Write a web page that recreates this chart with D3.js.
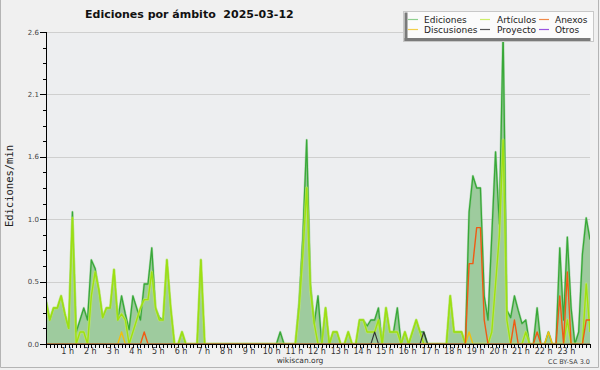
<!DOCTYPE html>
<html><head><meta charset="utf-8">
<script src="https://cdn.jsdelivr.net/npm/d3@7"></script>
<style>body{margin:0;background:#f0f0f0;} svg{display:block}</style>
</head><body><svg id="c" width="600" height="370"></svg>
<script>
// 10-minute slots, minutes since midnight
const slotMinutes = d3.range(145).map(i => i * 10);
const hourLabels = ["1 h","2 h","3 h","4 h","5 h","6 h","7 h","8 h","9 h","10 h","11 h","12 h","13 h","14 h","15 h","16 h","17 h","18 h","19 h","20 h","21 h","22 h","23 h"];
const yTickLabels = ["0.0","0.5","1.0","1.6","2.1","2.6"];
const yMax = 2.6;

const ediciones = [
 0.37,0.2,0.3,0.3,0.4,0.25,0.13,1.1,0.1,0.2,
 0.3,0.2,0.7,0.63,0.45,0.22,0.3,0.3,0.62,0.2,
 0.4,0.25,0.12,0.4,0.3,0.2,0.5,0.5,0.8,0.3,
 0.22,0.2,0.7,0.3,0,0,0.1,0,0,0,
 0,0.7,0,0,0,0,0,0,0,0,
 0,0,0,0,0,0,0,0,0,0,
 0,0,0.1,0,0,0,0,0.35,0.9,1.7,
 0.5,0.17,0.4,0,0.3,0,0.1,0.1,0,0,
 0.1,0,0,0.2,0.2,0.15,0.2,0.2,0.3,0,
 0.3,0.1,0.1,0.3,0,0.1,0,0.1,0.2,0.1,
 0.1,0,0,0,0,0,0,0.4,0.1,0.1,
 0.1,0,1.1,1.4,1.3,1.3,0.4,0.2,0.9,1.6,
 1.0,2.6,0.28,0.22,0.4,0.28,0.17,0.2,0,0,
 0.3,0,0,0.1,0,0,0.8,0.2,0.89,0.3,
 0,0.1,0.75,1.05,0.87];
const articulos = [
 0.35,0.2,0.3,0.3,0.4,0.25,0.13,1.05,0,0.1,
 0.1,0,0.4,0.6,0.45,0.22,0.3,0.3,0.62,0.2,
 0.25,0.2,0,0.1,0.2,0.3,0.37,0.37,0.6,0.3,
 0.2,0.2,0.7,0.3,0,0,0.1,0,0,0,
 0,0.7,0,0,0,0,0,0,0,0,
 0,0,0,0,0,0,0,0,0,0,
 0,0,0,0,0,0,0,0.3,0.75,1.3,
 0.45,0.17,0,0,0.3,0,0.1,0.1,0,0,
 0.1,0,0,0.2,0.2,0.1,0.1,0.1,0.2,0,
 0.3,0.1,0.1,0.1,0,0.1,0,0.1,0.2,0.1,
 0,0,0,0,0,0,0,0.4,0.1,0.1,
 0.1,0,0,0,0,0,0,0,0.1,0.5,
 0.9,1.7,0.2,0,0,0,0,0.1,0,0,
 0,0,0,0,0,0,0,0,0.2,0,
 0,0,0,0.5,0.1];
const anexos = [
 0,0,0,0,0,0,0,0,0,0,
 0,0,0,0,0,0,0,0,0,0,
 0,0,0,0,0,0,0.1,0,0,0,
 0,0,0,0,0,0,0,0,0,0,
 0,0,0,0,0,0,0,0,0,0,
 0,0,0,0,0,0,0,0,0,0,
 0,0,0,0,0,0,0,0,0,0,
 0,0,0,0,0,0,0,0,0,0,
 0,0,0,0,0,0,0,0,0,0,
 0,0,0,0,0,0,0,0,0,0,
 0,0,0,0,0,0,0,0,0,0,
 0,0,0.67,0.67,0.97,0.97,0.2,0,0,0,
 0,0,0,0,0.2,0,0,0,0,0,
 0.1,0,0,0,0,0,0.4,0,0.6,0,
 0,0,0,0.2,0.2];
const discusiones = [
 0,0,0,0,0,0,0,0,0,0,
 0,0,0,0,0,0,0,0,0,0,
 0.1,0,0,0,0,0,0,0,0,0,
 0,0,0,0,0,0,0,0,0,0,
 0,0,0,0,0,0,0,0,0,0,
 0,0,0,0,0,0,0,0,0,0,
 0,0,0,0,0,0,0,0,0,0,
 0,0,0,0,0,0,0,0,0,0,
 0,0,0,0,0,0,0,0,0,0,
 0,0,0,0,0,0,0,0,0,0,
 0,0,0,0,0,0,0,0,0,0,
 0,0,0.1,0,0,0,0,0,0,0,
 0,0,0,0,0,0,0,0,0,0,
 0,0,0,0.1,0,0,0,0,0,0,
 0,0,0,0,0];
const proyecto = [
 0,0,0,0,0,0,0,0,0,0,
 0,0,0,0,0,0,0,0,0,0,
 0,0,0,0,0,0,0,0,0,0,
 0,0,0,0,0,0,0,0,0,0,
 0,0,0,0,0,0,0,0,0,0,
 0,0,0,0,0,0,0,0,0,0,
 0,0,0,0,0,0,0,0,0,0,
 0,0,0,0,0,0,0,0,0,0,
 0,0,0,0,0,0,0,0.1,0,0,
 0,0,0,0,0,0,0,0,0,0,
 0.1,0,0,0,0,0,0,0,0,0,
 0,0,0,0,0,0,0,0,0,0,
 0,0,0,0,0,0,0,0,0,0,
 0,0,0,0,0,0,0,0,0,0,
 0,0,0,0,0];
const otros = slotMinutes.map(() => 0);

const legendNames = ["Ediciones","Artículos","Anexos","Discusiones","Proyecto","Otros"];
const legendColors = ["#8fd08f","#cdee6a","#f08a4a","#f2cf4a","#555555","#9a55e0"];

const svg = d3.select("#c");
const L = 46, R = 590, T = 32, B = 344;
const x = d3.scaleLinear().domain([0, 1440]).range([L, R]);
const y = d3.scaleLinear().domain([0, yMax]).range([B, T]);

svg.append("rect").attr("width",600).attr("height",370).attr("fill","#f0f0f0");
svg.append("path").attr("d","M0.5,0 V367.5 H598.5 V0").attr("fill","none").attr("stroke","#b4b4b4");
svg.append("rect").attr("x",L).attr("y",T).attr("width",R-L).attr("height",B-T).attr("fill","#edeef0");

const majorVals = yTickLabels.map((_, k) => k * yMax / (yTickLabels.length - 1));
const minorVals = d3.range(0, 21).map(k => k * yMax / 20);

svg.append("g").selectAll("line").data(majorVals.slice(1)).join("line")
  .attr("x1",L).attr("x2",R).attr("y1",d=>Math.round(y(d))+0.5).attr("y2",d=>Math.round(y(d))+0.5)
  .attr("stroke","#cfcfcf").attr("stroke-width",1);

const defs = svg.append("defs");
defs.append("clipPath").attr("id","clp").append("rect").attr("x",L).attr("y",0).attr("width",R-L).attr("height",B-0.5);

const idx = slotMinutes.map((_, i) => i);
const area = d3.area().x(i => x(slotMinutes[i])).y0(B).y1(i => y(ediciones[i]));
svg.append("path").attr("d", area(idx)).attr("fill","#9ecb9e");

const gl = svg.append("g").attr("clip-path","url(#clp)");
function drawLine(vals, color, w, op) {
  const ln = d3.line().x(i => x(slotMinutes[i])).y(i => y(vals[i]));
  gl.append("path").attr("d", ln(idx)).attr("fill","none").attr("stroke",color)
    .attr("stroke-width",w).attr("stroke-linejoin","round").attr("opacity",op||1);
}
drawLine(ediciones, "#7cc47c", 2.4, 0.5);
drawLine(ediciones, "#38a838", 1.3);
drawLine(articulos, "#c8f060", 2.8, 0.6);
drawLine(articulos, "#9ee010", 1.4);
drawLine(otros, "#8040e0", 1.2);
drawLine(discusiones, "#f0c010", 1.4);
drawLine(anexos, "#f05a14", 1.4);
drawLine(proyecto, "#333333", 1.1);

const ya = svg.append("g");
ya.append("line").attr("x1",L+0.5).attr("x2",L+0.5).attr("y1",T).attr("y2",B+0.5).attr("stroke","#000");
ya.selectAll(".mn").data(minorVals).join("line")
  .attr("x1",L-3).attr("x2",L).attr("y1",d=>Math.round(y(d))+0.5).attr("y2",d=>Math.round(y(d))+0.5).attr("stroke","#000");
ya.selectAll(".mj").data(majorVals).join("line")
  .attr("x1",L-6).attr("x2",L).attr("y1",d=>Math.round(y(d))+0.5).attr("y2",d=>Math.round(y(d))+0.5).attr("stroke","#000");
ya.selectAll("text").data(majorVals).join("text")
  .attr("x",L-7).attr("y",d=>y(d)+2.5).attr("text-anchor","end")
  .attr("font-family","DejaVu Sans").attr("font-size",7).attr("fill","#444")
  .text((d,k)=>yTickLabels[k]);

const xa = svg.append("g");
xa.append("line").attr("x1",L).attr("x2",R+1).attr("y1",B+0.5).attr("y2",B+0.5).attr("stroke","#000");
xa.selectAll("line.t").data(d3.range(0, 1441, 10)).join("line").attr("class","t")
  .attr("x1",d=>Math.round(x(d))+0.5).attr("x2",d=>Math.round(x(d))+0.5).attr("y1",B).attr("y2",B+4).attr("stroke","#000");
xa.selectAll("text").data(hourLabels).join("text")
  .attr("x",(d,k)=>x((k+1)*60)-1).attr("y",354).attr("text-anchor","middle")
  .attr("font-family","DejaVu Sans").attr("font-size",8).attr("fill","#333").text(d=>d);

svg.append("text").attr("x",85).attr("y",18).attr("font-family","DejaVu Sans").attr("font-weight","bold")
  .attr("font-size",11).attr("fill","#111").style("white-space","pre").text("Ediciones por ámbito  2025-03-12");
svg.append("text").attr("transform","translate(13,186) rotate(-90)").attr("text-anchor","middle")
  .attr("font-family","DejaVu Sans Mono").attr("font-size",10.5).attr("fill","#222").text("Ediciones/min");
svg.append("text").attr("x",300).attr("y",363).attr("text-anchor","middle").attr("font-family","DejaVu Sans")
  .attr("font-size",7.5).attr("fill","#333").text("wikiscan.org");
svg.append("text").attr("x",590).attr("y",364).attr("text-anchor","end").attr("font-family","DejaVu Sans")
  .attr("font-size",6.5).attr("fill","#444").text("CC BY-SA 3.0");

const lg = svg.append("g");
lg.append("rect").attr("x",403.5).attr("y",11.5).attr("width",190).attr("height",30).attr("fill","#fbfbfb").attr("stroke","#c8c8c8");
lg.append("rect").attr("x",404.5).attr("y",12.5).attr("width",3).attr("height",28.5).attr("fill","#7a7a7a");
lg.append("rect").attr("x",404.5).attr("y",38).attr("width",186).attr("height",3).attr("fill","#7a7a7a");
const colSw = [408, 480, 539], colTx = [424, 497, 555], rowY = [19.5, 29.5];
legendNames.forEach((n, k) => {
  const c = k % 3, r = Math.floor(k / 3);
  lg.append("line").attr("x1",colSw[c]).attr("x2",colSw[c]+10).attr("y1",rowY[r]).attr("y2",rowY[r])
    .attr("stroke",legendColors[k]).attr("stroke-width",1.2);
  lg.append("text").attr("x",colTx[c]).attr("y",rowY[r]+3).attr("font-family","DejaVu Sans").attr("font-size",9)
    .attr("fill","#222").text(n);
});
</script></body></html>
